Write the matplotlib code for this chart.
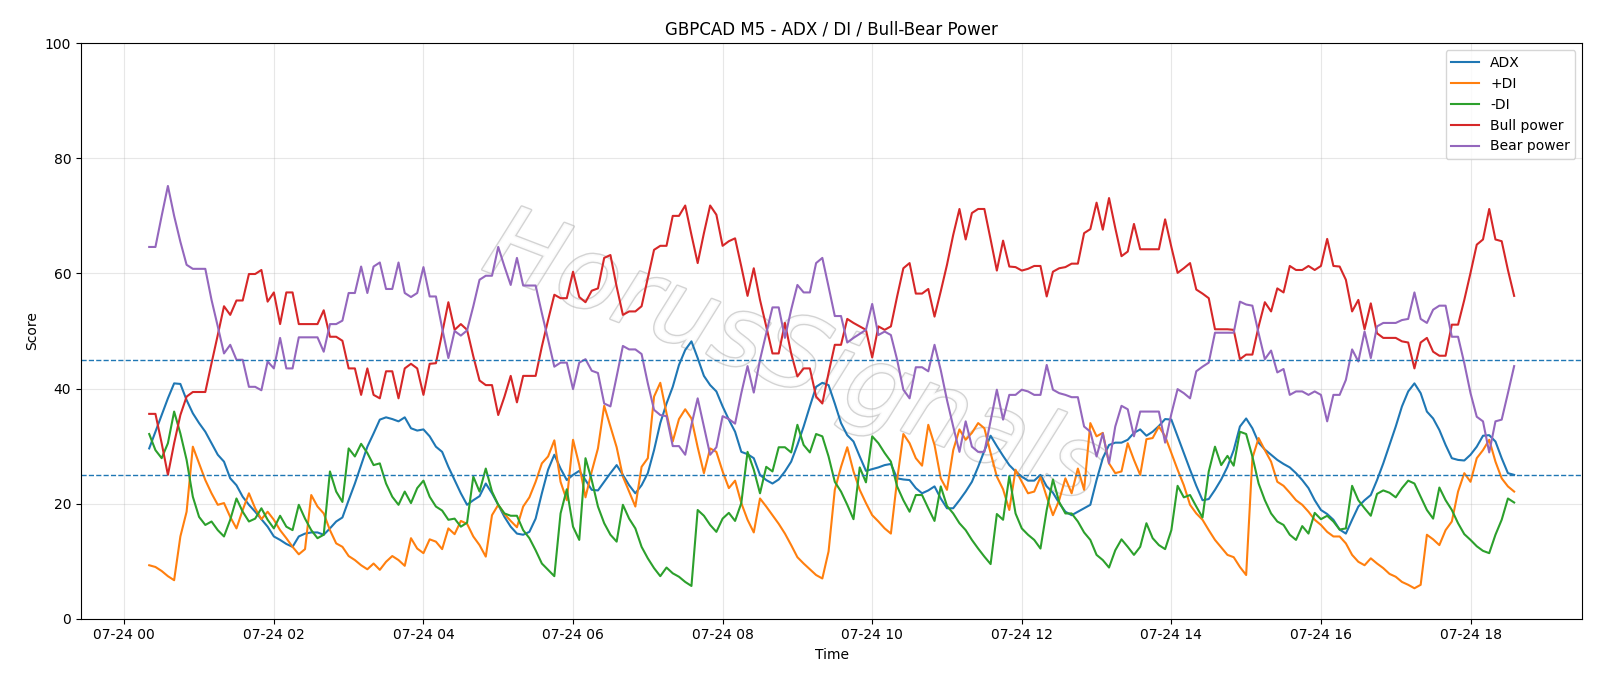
import numpy as np
import pandas as pd
import matplotlib
matplotlib.use("Agg")
import matplotlib.pyplot as plt
import matplotlib.patheffects as pe

# 5-minute bars, 07-24 00:20 .. 18:35
times = pd.date_range("2025-07-24 00:20", periods=220, freq="5min")

adx = [
    29.6, 32.5, 35.4, 38.3, 40.9, 40.8, 38.0, 35.7, 34.0, 32.5, 30.5, 28.5, 27.3, 24.4, 23.2, 21.2, 19.8, 18.6, 17.3, 16.0,
    14.3, 13.7, 13.0, 12.5, 14.3, 14.8, 15.0, 15.0, 14.6, 15.7, 16.9, 17.6, 20.6, 23.5, 26.7, 29.9, 32.2, 34.6,
    35.0, 34.7, 34.3, 35.0, 33.1, 32.7, 32.9, 31.7, 29.9, 29.0, 26.4, 24.1, 21.8, 19.8, 20.6, 21.3, 23.5, 21.8, 19.8, 17.7,
    16.0, 14.8, 14.6, 15.1, 17.4, 21.8, 25.9, 28.5, 26.1, 24.1, 25.0, 25.7, 24.1, 22.4, 22.3, 23.8, 25.3,
    26.7, 25.0, 23.2, 21.8, 23.2, 25.3, 29.3, 34.0, 37.4, 40.3, 44.1, 46.7, 48.2, 45.3, 42.2, 40.6, 39.5, 36.9, 34.6, 32.5,
    29.0, 28.6, 27.9, 25.0, 24.1, 23.5, 24.2, 25.6, 27.3, 30.2, 33.4, 36.9, 40.3, 41.0, 40.6, 37.4,
    34.0, 31.9, 30.8, 28.2, 25.7, 26.0, 26.3, 26.7, 26.9, 24.4, 24.2, 24.1, 22.7, 21.8, 22.3, 23.0, 20.9, 19.2, 19.2, 20.6,
    22.1, 23.8, 26.4, 29.2, 31.8, 30.0, 28.3, 26.7, 25.6, 24.7, 24.0, 24.0, 25.0, 23.0, 21.9, 20.1, 18.6,
    18.0, 18.6, 19.2, 19.8, 24.1, 27.9, 30.2, 30.6, 30.6, 31.1, 32.3, 32.9, 31.8, 32.5, 33.5, 34.7, 34.6, 31.7, 28.8, 25.9,
    23.1, 20.6, 20.8, 22.4, 24.2, 26.4, 29.3, 33.4, 34.8, 33.1, 30.6, 29.4, 28.5, 27.6, 26.9, 26.3, 25.3,
    24.1, 22.7, 20.6, 18.9, 18.2, 17.2, 15.5, 14.8, 17.2, 19.5, 20.6, 21.5, 24.1, 27.0, 30.2, 33.4, 36.9, 39.5, 40.9, 39.2,
    36.0, 34.8, 32.8, 30.2, 27.9, 27.6, 27.5, 28.5, 29.9, 31.8, 31.9, 30.8, 27.9, 25.3, 25.0,
]

plus_di = [
    9.3, 9.0, 8.3, 7.4, 6.7, 14.3, 18.6, 29.9, 27.0, 24.1, 21.8, 19.8, 20.1, 17.7, 15.7, 18.9, 21.8, 19.2, 17.3, 18.6,
    17.2, 15.4, 14.0, 12.5, 11.2, 12.1, 21.5, 19.5, 18.3, 15.4, 13.1, 12.5, 10.9, 10.2, 9.3, 8.6, 9.6, 8.5,
    9.9, 10.9, 10.2, 9.2, 14.0, 12.2, 11.4, 13.8, 13.4, 12.1, 15.7, 14.7, 17.0, 16.5, 14.3, 12.8, 10.8, 18.0, 19.8, 18.2,
    17.0, 15.9, 19.5, 21.1, 23.8, 27.0, 28.2, 31.0, 23.8, 20.6, 31.1, 26.7, 21.1, 25.6, 29.6, 37.0, 33.4,
    29.8, 24.7, 22.1, 19.5, 26.4, 27.9, 38.6, 41.0, 35.7, 30.8, 34.7, 36.4, 34.8, 29.8, 25.3, 29.6, 29.0, 25.6, 22.7, 24.0,
    20.1, 17.2, 15.0, 20.9, 19.5, 18.0, 16.5, 14.8, 12.8, 10.7, 9.6, 8.6, 7.6, 7.0, 11.7, 22.4,
    26.4, 29.8, 25.6, 22.4, 20.1, 18.0, 16.9, 15.7, 14.8, 24.1, 32.1, 30.5, 27.9, 26.6, 33.7, 30.2, 24.4, 22.4, 29.3, 32.9,
    31.1, 32.3, 34.0, 33.1, 28.8, 24.7, 22.5, 18.9, 25.9, 23.8, 21.8, 22.1, 24.6, 21.2, 18.0, 20.6, 24.4,
    21.8, 26.1, 22.4, 34.0, 31.7, 32.3, 27.0, 25.3, 25.6, 30.5, 27.6, 25.0, 31.2, 31.4, 33.4, 31.7, 28.8, 25.9, 23.2, 19.8,
    18.3, 17.2, 15.4, 13.7, 12.4, 11.1, 10.7, 9.0, 7.6, 27.9, 31.4, 29.3, 27.3, 23.8, 23.1, 21.9, 20.6,
    19.8, 18.6, 17.2, 16.3, 15.1, 14.3, 14.3, 13.1, 11.1, 9.9, 9.3, 10.5, 9.6, 8.8, 7.8, 7.3, 6.4, 5.9, 5.3, 5.9,
    14.6, 13.8, 12.8, 15.4, 16.9, 22.1, 25.3, 23.8, 27.9, 29.3, 31.1, 27.3, 24.4, 23.0, 22.1,
]

minus_di = [
    32.1, 29.3, 27.9, 30.5, 36.0, 32.2, 27.6, 21.2, 17.7, 16.3, 16.9, 15.4, 14.3, 17.2, 20.9, 18.6, 16.9, 17.4, 19.2, 17.2,
    15.7, 17.9, 16.0, 15.4, 19.8, 17.4, 15.4, 14.0, 14.6, 25.6, 22.1, 20.3, 29.6, 28.2, 30.4, 28.8, 26.7, 27.0,
    23.5, 21.2, 19.8, 22.1, 20.1, 22.7, 24.0, 21.2, 19.5, 18.8, 17.2, 17.4, 16.0, 16.7, 24.7, 22.1, 26.1, 22.1, 19.8, 18.3,
    17.9, 17.9, 15.4, 14.0, 11.9, 9.6, 8.5, 7.4, 18.3, 22.5, 16.0, 13.7, 27.9, 24.1, 19.5, 16.6, 14.6,
    13.4, 19.8, 17.4, 15.7, 12.5, 10.5, 8.8, 7.4, 8.9, 7.9, 7.3, 6.4, 5.7, 18.9, 17.9, 16.3, 15.1, 17.4, 18.4, 17.0,
    20.1, 29.0, 25.9, 21.8, 26.4, 25.6, 29.8, 29.8, 28.9, 33.7, 30.2, 28.9, 32.1, 31.7, 28.2, 23.8,
    22.1, 19.8, 17.3, 26.3, 23.7, 31.7, 30.5, 28.8, 27.3, 23.0, 20.6, 18.6, 21.5, 21.5, 19.2, 17.0, 23.0, 19.6, 18.3, 16.6,
    15.4, 13.7, 12.2, 10.8, 9.5, 18.2, 17.2, 24.8, 18.3, 15.7, 14.6, 13.7, 12.2, 18.9, 24.2, 20.3, 18.3,
    18.3, 16.9, 15.0, 13.7, 11.1, 10.2, 8.9, 11.9, 13.8, 12.5, 11.1, 12.5, 16.6, 14.0, 12.8, 12.1, 15.4, 23.1, 21.1, 21.5,
    19.5, 17.6, 25.6, 29.9, 26.7, 28.3, 26.6, 32.5, 32.1, 28.2, 23.5, 20.6, 18.3, 16.9, 16.3, 14.6, 13.7,
    16.1, 14.8, 18.4, 17.3, 17.9, 16.9, 15.5, 15.7, 23.1, 20.6, 19.2, 17.9, 21.7, 22.3, 21.9, 21.1, 22.7, 24.0, 23.5, 21.2,
    18.9, 17.4, 22.8, 20.6, 18.9, 16.6, 14.7, 13.7, 12.6, 11.8, 11.4, 14.6, 17.2, 20.9, 20.2,
]

bull_power = [
    35.6, 35.6, 30.5, 25.0, 30.5, 35.4, 38.6, 39.4, 39.4, 39.4, 44.4, 49.3, 54.3, 52.8, 55.3, 55.3, 59.9, 59.9, 60.6, 55.1,
    56.7, 51.2, 56.7, 56.7, 51.2, 51.2, 51.2, 51.2, 53.6, 49.0, 49.0, 48.3, 43.5, 43.5, 38.9, 43.5, 38.9, 38.3,
    43.0, 43.0, 38.3, 43.5, 44.3, 43.5, 38.9, 44.3, 44.4, 49.6, 55.0, 50.2, 51.2, 50.2, 45.6, 41.4, 40.6, 40.6, 35.4, 38.6,
    42.2, 37.6, 42.2, 42.2, 42.2, 47.3, 51.9, 56.3, 55.7, 55.7, 60.3, 55.9, 55.0, 57.0, 57.4, 62.7, 63.2,
    57.7, 52.8, 53.4, 53.4, 54.3, 59.2, 64.1, 64.8, 64.8, 70.0, 70.0, 71.8, 66.7, 61.8, 67.0, 71.8, 70.2, 64.8, 65.6, 66.1,
    61.2, 56.1, 60.9, 55.4, 50.8, 46.1, 46.1, 51.4, 46.1, 42.1, 43.5, 43.5, 38.6, 37.4, 42.7, 47.6,
    47.6, 52.1, 51.4, 50.8, 50.2, 45.4, 50.8, 50.2, 50.8, 56.0, 60.9, 61.8, 56.5, 56.5, 57.3, 52.5, 56.9, 61.5, 66.7, 71.2,
    65.9, 70.5, 71.2, 71.2, 65.9, 60.5, 65.7, 61.2, 61.1, 60.5, 60.8, 61.3, 61.3, 56.0, 60.3, 60.9, 61.1,
    61.7, 61.7, 67.0, 67.7, 72.3, 67.6, 73.1, 67.9, 63.0, 63.8, 68.6, 64.2, 64.2, 64.2, 64.2, 69.4, 64.6, 60.1, 60.9, 61.8,
    57.2, 56.5, 55.7, 50.3, 50.3, 50.3, 50.2, 45.1, 45.9, 45.9, 50.8, 55.0, 53.4, 57.4, 56.7, 61.3, 60.6,
    60.6, 61.3, 60.6, 61.3, 66.0, 61.3, 61.2, 58.9, 53.4, 55.4, 50.3, 54.8, 49.6, 48.8, 48.8, 48.8, 48.2, 48.0, 43.5, 48.0,
    48.8, 46.4, 45.7, 45.7, 51.1, 51.1, 55.4, 60.1, 65.0, 65.9, 71.2, 65.9, 65.6, 60.6, 56.1,
]

bear_power = [
    64.6, 64.6, 70.0, 75.2, 70.0, 65.5, 61.5, 60.8, 60.8, 60.8, 55.4, 50.8, 46.1, 47.6, 45.0, 45.0, 40.3, 40.3, 39.7, 44.7,
    43.5, 48.8, 43.5, 43.5, 48.9, 48.9, 48.9, 48.9, 46.4, 51.2, 51.2, 51.8, 56.6, 56.6, 61.2, 56.6, 61.2, 61.9,
    57.3, 57.3, 61.9, 56.6, 55.9, 56.6, 61.1, 56.0, 56.0, 50.5, 45.3, 50.0, 49.2, 50.1, 54.3, 58.9, 59.6, 59.6, 64.6, 61.2,
    58.0, 62.7, 57.9, 57.9, 57.9, 53.1, 48.5, 43.8, 44.5, 44.5, 39.9, 44.5, 45.1, 43.1, 42.7, 37.4, 36.9,
    42.1, 47.4, 46.8, 46.8, 46.0, 40.9, 36.3, 35.4, 35.2, 30.0, 30.0, 28.5, 33.7, 38.3, 33.4, 28.5, 29.8, 35.2, 34.7, 33.9,
    39.2, 43.9, 39.3, 45.0, 49.6, 54.1, 54.1, 48.8, 53.7, 58.0, 56.7, 56.7, 61.8, 62.7, 57.7, 52.6,
    52.6, 48.0, 48.8, 49.5, 50.2, 54.7, 49.3, 49.9, 49.3, 45.0, 39.8, 38.3, 43.7, 43.7, 43.0, 47.6, 43.2, 38.0, 33.4, 29.0,
    34.3, 29.9, 29.0, 29.0, 34.4, 39.8, 34.6, 38.9, 38.9, 39.8, 39.5, 38.9, 38.9, 44.1, 39.8, 39.2, 38.9,
    38.5, 38.5, 33.4, 32.5, 28.2, 32.2, 27.0, 33.4, 37.0, 36.4, 31.7, 36.0, 36.0, 36.0, 36.0, 30.6, 35.6, 39.9, 39.2, 38.3,
    43.0, 43.8, 44.5, 49.7, 49.7, 49.7, 49.7, 55.1, 54.6, 54.4, 49.6, 45.1, 46.6, 42.8, 43.4, 38.9, 39.5,
    39.5, 38.9, 39.5, 38.9, 34.3, 38.9, 38.9, 41.5, 46.8, 44.7, 49.9, 45.3, 50.8, 51.4, 51.4, 51.4, 51.9, 52.1, 56.7, 52.1,
    51.4, 53.7, 54.4, 54.4, 49.0, 49.0, 44.4, 39.2, 35.1, 34.3, 28.9, 34.3, 34.6, 39.2, 43.9,
]

LEVELS = [45, 25]

fig, ax = plt.subplots(figsize=(16, 6.86), dpi=100)
fig.subplots_adjust(left=0.0506, right=0.989, bottom=0.098, top=0.937)

# watermark
ax.text(0.475, 0.45, "HorusSignals", transform=ax.transAxes, fontsize=72,
        fontstyle="italic", rotation=-21, ha="center", va="center",
        color="white", alpha=0.9, zorder=0,
        path_effects=[pe.withStroke(linewidth=2, foreground="#cfcfcf")])

ax.plot(times, adx, label="ADX", color="C0", lw=1.5)
ax.plot(times, plus_di, label="+DI", color="C1", lw=1.5)
ax.plot(times, minus_di, label="-DI", color="C2", lw=1.5)
ax.plot(times, bull_power, label="Bull power", color="C3", lw=1.5)
ax.plot(times, bear_power, label="Bear power", color="C4", lw=1.5)

for lvl in LEVELS:
    ax.axhline(lvl, color="C0", linestyle="--", linewidth=1)

ax.set_ylim(0, 100)
ax.set_title("GBPCAD M5 - ADX / DI / Bull-Bear Power")
ax.set_xlabel("Time")
ax.set_ylabel("Score")
ax.grid(alpha=0.3)
ax.legend(loc="upper right")

fig.savefig("out.png", dpi=100)
